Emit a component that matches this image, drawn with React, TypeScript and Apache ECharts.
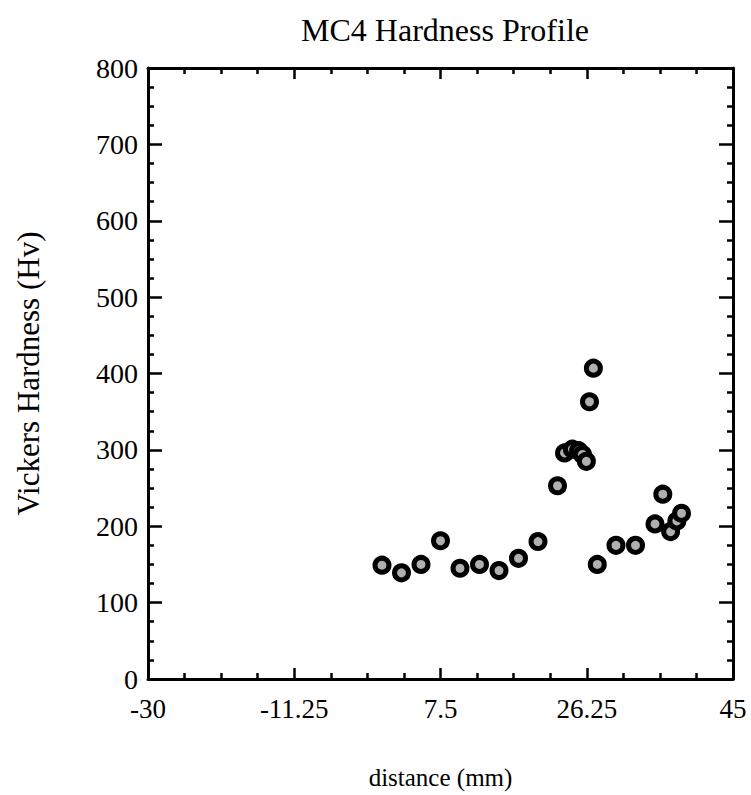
import React, { useEffect, useRef } from "react";
import * as echarts from "echarts";

const distance = [0, 2.5, 5, 7.5, 10, 12.5, 15, 17.5, 20, 22.5, 23.4, 24.4, 25.2, 25.7, 26.2, 26.6, 27.1, 27.6, 30, 32.5, 35, 36, 37, 37.8, 38.4];
const hardness = [149, 139, 150, 181, 145, 150, 142, 158, 180, 253, 296, 301, 299, 294, 285, 363, 407, 150, 175, 175, 203, 242, 193, 207, 217];
const xTicks = [-30, -11.25, 7.5, 26.25, 45];

const FONT = "'Liberation Serif', 'Times New Roman', serif";

export default function App() {
  const ref = useRef<HTMLDivElement>(null);
  useEffect(() => {
    if (!ref.current) return;
    const chart = echarts.init(ref.current, undefined, { renderer: "svg" });
    const axisLine = { show: true, onZero: false, lineStyle: { color: "#000", width: 3 } };
    const xCommon = {
      type: "value",
      min: -30,
      max: 45,
      interval: 18.75,
      axisLine,
      splitLine: { show: false },
    };
    const yCommon = {
      type: "value",
      min: 0,
      max: 800,
      interval: 100,
      axisLine,
      splitLine: { show: false },
    };
    const xTick = { show: true, inside: true, length: 11, lineStyle: { color: "#000", width: 2.5 } };
    const xMinor = { show: true, splitNumber: 4, length: 6, lineStyle: { color: "#000", width: 2.5 } };
    const yTick = { show: true, inside: true, length: 14, lineStyle: { color: "#000", width: 2.5 } };
    const yMinor = { show: true, splitNumber: 4, length: 6, lineStyle: { color: "#000", width: 2.5 } };
    chart.setOption({
      animation: false,
      backgroundColor: "#fff",
      title: {
        text: "MC4 Hardness Profile",
        left: 440,
        top: 9,
        textAlign: "center",
        textStyle: { fontFamily: FONT, fontSize: 32, fontWeight: "normal", color: "#000" },
      },
      grid: { left: 148, right: 18, top: 68, bottom: 115 },
      xAxis: [
        {
          ...xCommon,
          position: "bottom",
          name: "distance (mm)",
          nameLocation: "middle",
          nameGap: 86,
          nameTextStyle: { fontFamily: FONT, fontSize: 25, color: "#000" },
          axisTick: xTick,
          minorTick: xMinor,
          axisLabel: {
            show: true,
            margin: 16,
            fontFamily: FONT,
            fontSize: 27,
            color: "#000",
            formatter: (v: number) => {
              const t = xTicks.find((k) => Math.abs(k - v) < 1e-6);
              return t === undefined ? "" : String(t);
            },
          },
        },
        {
          ...xCommon,
          position: "top",
          axisTick: xTick,
          minorTick: xMinor,
          axisLabel: { show: false },
        },
      ],
      yAxis: [
        {
          ...yCommon,
          position: "left",
          name: "Vickers Hardness (Hv)",
          nameLocation: "middle",
          nameGap: 104,
          nameTextStyle: { fontFamily: FONT, fontSize: 31, color: "#000" },
          axisTick: yTick,
          minorTick: yMinor,
          axisLabel: { show: true, margin: 10, fontFamily: FONT, fontSize: 28, color: "#000" },
        },
        {
          ...yCommon,
          position: "right",
          axisTick: yTick,
          minorTick: yMinor,
          axisLabel: { show: false },
        },
      ],
      series: [
        {
          type: "scatter",
          xAxisIndex: 0,
          yAxisIndex: 0,
          data: distance.map((d, i) => [d, hardness[i]]),
          symbol: "circle",
          symbolSize: 14,
          itemStyle: { color: "#b0b0b0", borderColor: "#000", borderWidth: 5, opacity: 1 },
        },
      ],
    });
    return () => chart.dispose();
  }, []);
  return (
    <div
      ref={ref}
      style={{ position: "absolute", left: 0, top: 0, width: 751, height: 795 }}
    />
  );
}
